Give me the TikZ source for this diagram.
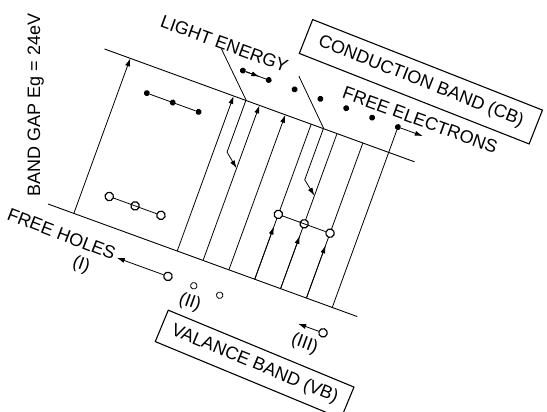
\documentclass[tikz,border=0pt]{standalone}
\usepackage{fontspec}
\setmainfont{Liberation Sans}
\usetikzlibrary{arrows.meta,calc}
\begin{document}
\begin{tikzpicture}[x=1pt,y=1pt,
  band/.style={line width=0.9pt},
  ln/.style={line width=0.8pt},
  arr/.style={line width=0.8pt,-{Latex[length=8pt,width=5pt]}},
  dotn/.style={circle,fill=black,inner sep=0pt,minimum size=6pt},
  holen/.style={circle,draw,line width=1.2pt,fill=white,inner sep=0pt,minimum size=8.5pt},
  smallhole/.style={circle,draw,line width=0.8pt,fill=white,inner sep=0pt,minimum size=6.5pt},
  lbl/.style={inner sep=0pt,font=\fontsize{18}{21}\selectfont},
  boxn/.style={draw,line width=1.1pt,inner sep=0pt,font=\fontsize{18}{21}\selectfont}
]
\useasboundingbox (0,0) rectangle (547,412);
\clip (0,0) rectangle (547,412);
\node[lbl,rotate=90,anchor=base] (gap) at (40,307) {BAND GAP Eg = 24eV};
\begin{scope}[shift={(48,208)},rotate=-20,transform shape]
  % band edges
  \coordinate (v0) at (0,0);   \coordinate (v1) at (329,0);
  \coordinate (c0) at (0,165); \coordinate (c1) at (330,165);
  \draw[band] (v0) -- (v1);
  \draw[band] (c0) -- (c1);
  % transition lines
  \foreach \n/\u in {1/27.5,5/137.5,6/165,7/192.5,8/220,9/247.5,10/275,11/302.5}{
    \coordinate (b\n) at (\u,0);
    \coordinate (t\n) at (\u,165);
  }
  \foreach \n in {1,5,6,7}{ \draw[arr] (b\n) -- (t\n); }
  \foreach \n in {8,9,10}{
    \draw[ln] (b\n) -- (t\n);
    \draw[arr] (b\n) -- ($(b\n)!0.34!(t\n)$);
  }
  % free electrons
  \foreach \n/\u in {1/137.5,2/165,3/192.5,4/220,5/247.5,6/275,7/302.5}{
    \node[dotn] (e\n) at (\u,192) {};
  }
  \draw[ln] (b11) -- (e7);
  \coordinate (ea) at (329,192);
  \draw[arr] (e7) -- (ea);
  \draw[ln] (e1) -- (e2);
  \draw[arr] (e1) -- ($(e1)!0.64!(e2)$);
  % light energy paths
  \coordinate (L1a) at (110,205);   \coordinate (L1b) at (150.5,165.5);
  \coordinate (L1c) at (150.5,110); \coordinate (L1d) at (165,98);
  \draw[ln] (L1a) -- (L1b) -- (L1c);
  \draw[arr] (L1c) -- (L1d);
  \coordinate (L2a) at (192,206);   \coordinate (L2b) at (233,165.5);
  \coordinate (L2c) at (233,110.5); \coordinate (L2d) at (247.5,99);
  \draw[ln] (L2a) -- (L2b) -- (L2c);
  \draw[arr] (L2c) -- (L2d);
  % electron chain (I)
  \node[dotn] (d1) at (55,138) {};
  \node[dotn] (d2) at (82.5,138) {};
  \node[dotn] (d3) at (110,138) {};
  \draw[ln] (d1) -- (d3);
  % hole chain (I)
  \node[holen] (o1) at (55,28) {};
  \node[holen] (o2) at (82.5,28) {};
  \node[holen] (o3) at (110,28) {};
  \draw[ln] (o1) -- (o3);
  % hole chain (III)
  \node[holen] (h1) at (220,69) {};
  \node[holen] (h2) at (247.5,69) {};
  \node[holen] (h3) at (275,69) {};
  \draw[ln] (h1) -- (h3);
  % free holes
  \node[holen] (fh1) at (137.5,-27) {};
  \coordinate (fa1) at (83,-27);
  \draw[arr] (fh1) -- (fa1);
  \node[smallhole] (fh2) at (165,-27) {};
  \node[smallhole] (fh3) at (192.5,-27) {};
  \node[holen] (fh4) at (302.5,-27) {};
  \coordinate (fa4) at (276,-27);
  \draw[arr] (fh4) -- (fa4);
  % labels
  \node[lbl] (light) at (111,210.8) {LIGHT ENERGY};
  \node[lbl] (fe) at (321,206.3) {FREE ELECTRONS};
  \node[boxn,rotate=-1.5,minimum width=247pt,minimum height=36.4pt] (cb) at (308.6,242.4) {CONDUCTION BAND (CB)};
  \node[lbl,rotate=-1] (fhl) at (23,-23.6) {FREE HOLES};
  \node[lbl] (r1) at (52,-46) {(I)};
  \node[lbl] (r2) at (167,-44) {(II)};
  \node[lbl] (r3) at (289,-44) {(III)};
  \node[boxn,rotate=-2.5,minimum width=201pt,minimum height=34pt] (vb) at (249,-80) {VALANCE BAND (VB)};
\end{scope}
\end{tikzpicture}
\end{document}
